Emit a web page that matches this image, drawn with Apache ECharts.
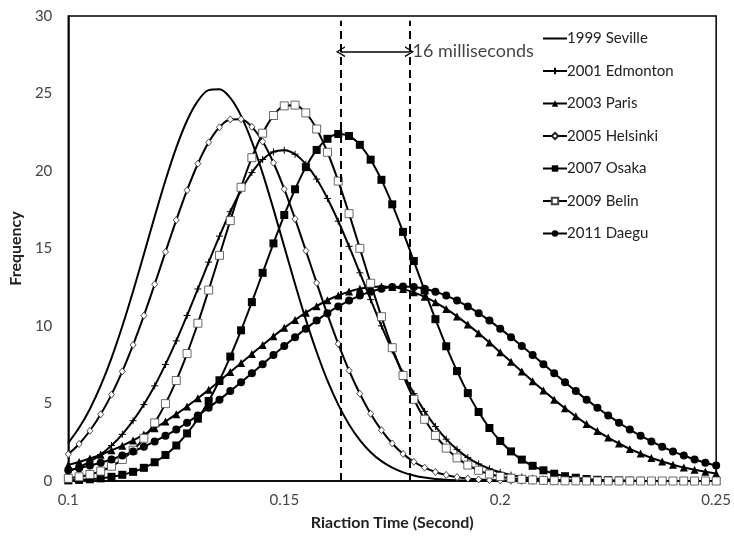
<!DOCTYPE html>
<html><head><meta charset="utf-8">
<script src="https://cdn.jsdelivr.net/npm/echarts@6/dist/echarts.min.js"></script>
<style>html,body{margin:0;padding:0;background:#fff}#c{width:734px;height:538px}</style>
</head><body><div id="c"></div>
<script>
// Reaction time grid (seconds)
const xs = [0.1,0.1025,0.105,0.1075,0.11,0.1125,0.115,0.1175,0.12,0.1225,0.125,0.1275,0.13,0.1325,0.135,0.1375,0.14,0.1425,0.145,0.1475,0.15,0.1525,0.155,0.1575,0.16,0.1625,0.165,0.1675,0.17,0.1725,0.175,0.1775,0.18,0.1825,0.185,0.1875,0.19,0.1925,0.195,0.1975,0.2,0.2025,0.205,0.2075,0.21,0.2125,0.215,0.2175,0.22,0.2225,0.225,0.2275,0.23,0.2325,0.235,0.2375,0.24,0.2425,0.245,0.2475,0.25];

const seville = [2.46,3.43,4.65,6.15,7.93,9.98,12.24,14.63,17.06,19.40,21.51,23.26,24.52,25.22,25.28,24.71,23.56,21.90,19.85,17.54,15.12,12.71,10.41,8.32,6.48,4.93,3.65,2.64,1.86,1.28,0.86,0.56,0.36,0.22,0.13,0.08,0.05,0.03,0.01,0,0,0,0,0,0,0,0,0,0,0,0,0,0,0,0,0,0,0,0,0,0];
const edmonton = [0.64,0.90,1.25,1.71,2.29,3.01,3.89,4.93,6.14,7.52,9.04,10.68,12.39,14.12,15.80,17.37,18.76,19.90,20.74,21.23,21.34,21.08,20.44,19.48,18.23,16.76,15.14,13.43,11.70,10.01,8.42,6.95,5.64,4.49,3.52,2.70,2.04,1.51,1.10,0.79,0.56,0.38,0.26,0.17,0.11,0.07,0.05,0.03,0.02,0.01,0,0,0,0,0,0,0,0,0,0,0];
const paris = [1.04,1.23,1.45,1.70,1.98,2.28,2.62,3.00,3.40,3.84,4.31,4.81,5.34,5.88,6.45,7.03,7.61,8.20,8.77,9.34,9.88,10.39,10.86,11.28,11.66,11.97,12.22,12.40,12.51,12.55,12.51,12.38,12.17,11.88,11.53,11.10,10.62,10.09,9.53,8.93,8.31,7.69,7.06,6.44,5.84,5.25,4.69,4.17,3.67,3.22,2.80,2.42,2.07,1.77,1.49,1.26,1.05,0.87,0.72,0.59,0.48];
const helsinki = [1.73,2.39,3.24,4.30,5.57,7.07,8.78,10.67,12.69,14.78,16.83,18.76,20.47,21.85,22.82,23.33,23.34,22.85,21.90,20.53,18.83,16.91,14.86,12.78,10.75,8.85,7.13,5.63,4.34,3.28,2.42,1.75,1.24,0.86,0.58,0.39,0.25,0.16,0.10,0.06,0.04,0.02,0.01,0.01,0,0,0,0,0,0,0,0,0,0,0,0,0,0,0,0,0];
const osaka = [0.04,0.07,0.11,0.17,0.27,0.40,0.59,0.85,1.21,1.68,2.29,3.07,4.02,5.16,6.50,8.03,9.72,11.54,13.43,15.33,17.16,18.82,20.25,21.36,22.08,22.39,22.26,21.69,20.73,19.43,17.85,16.07,14.19,12.29,10.44,8.69,7.09,5.67,4.45,3.42,2.58,1.91,1.38,0.98,0.69,0.47,0.31,0.21,0.13,0.08,0.05,0.03,0.02,0.01,0,0,0,0,0,0,0];
const belin = [0.17,0.27,0.42,0.64,0.95,1.39,1.98,2.76,3.75,4.99,6.48,8.22,10.18,12.32,14.56,16.80,18.95,20.86,22.44,23.58,24.20,24.25,23.75,22.71,21.21,19.35,17.25,15.01,12.76,10.60,8.60,6.81,5.27,3.98,2.94,2.12,1.49,1.03,0.69,0.45,0.29,0.18,0.11,0.07,0.04,0.02,0.01,0.01,0,0,0,0,0,0,0,0,0,0,0,0,0];
const daegu = [0.69,0.83,1.00,1.18,1.39,1.64,1.91,2.21,2.55,2.92,3.32,3.76,4.23,4.73,5.25,5.80,6.37,6.95,7.54,8.13,8.71,9.28,9.83,10.35,10.83,11.26,11.64,11.96,12.21,12.40,12.51,12.55,12.51,12.40,12.21,11.96,11.64,11.26,10.83,10.35,9.83,9.28,8.71,8.13,7.54,6.95,6.37,5.80,5.25,4.73,4.23,3.76,3.32,2.92,2.55,2.21,1.91,1.64,1.39,1.18,1.00];

const names = ['1999 Seville','2001 Edmonton','2003 Paris','2005 Helsinki','2007 Osaka','2009 Belin','2011 Daegu'];
const xTicks = [0.1, 0.15, 0.2, 0.25];
const dashX = [0.163, 0.179];
const arrowY = 27.7;
const annotText = '16 milliseconds';

const FONT = 'Lato, "Liberation Sans", sans-serif';
const pair = a => a.map((v,i)=>[xs[i], v]);
const plus = 'path://M0,5L10,5M5,0L5,10';

const styles = [
  {symbol:'none', showSymbol:false, itemStyle:{color:'rgba(0,0,0,0)', borderWidth:0, borderColor:'rgba(0,0,0,0)'}},
  {symbol:plus, symbolSize:7, itemStyle:{color:'#000',borderColor:'#000',borderWidth:1}},
  {symbol:'triangle', symbolSize:8, itemStyle:{color:'#000'}},
  {symbol:'diamond', symbolSize:[6,7], itemStyle:{color:'#fff',borderColor:'#222',borderWidth:0.8}},
  {symbol:'rect', symbolSize:8, itemStyle:{color:'#000'}},
  {symbol:'rect', symbolSize:8, itemStyle:{color:'#fff',borderColor:'#444',borderWidth:0.8}},
  {symbol:'circle', symbolSize:8, itemStyle:{color:'#000'}}
];
const datas = [seville, edmonton, paris, helsinki, osaka, belin, daegu];

const series = datas.map((d,k)=>Object.assign({
  name:names[k], type:'line', data:pair(d), showSymbol:true, smooth:0.35,
  lineStyle:{color:'#000', width:2}, z:3, animation:false
}, styles[k], {itemStyle:Object.assign({color:'#000'}, styles[k].itemStyle||{})}));

// dashed verticals
series.push({
  type:'line', data:[], silent:true, animation:false,
  markLine:{symbol:'none', silent:true, animation:false,
    lineStyle:{color:'#000', width:2, type:[8,5]}, label:{show:false},
    data: dashX.map(x=>[{coord:[x,0]},{coord:[x,29.7]}])}
});
// arrow + text
const chev = 'path://M0,10L5,0L10,10L8.6,10L5,2.6L1.4,10Z';
series.push({
  type:'line', data:[], silent:true, animation:false,
  markLine:{silent:true, animation:false,
    symbol:[chev, chev], symbolSize:[11,9],
    lineStyle:{color:'#000', width:1.5, type:'solid'},
    itemStyle:{color:'#000'},
    label:{show:false},
    data:[[{coord:[dashX[0],arrowY]},{coord:[dashX[1],arrowY]}]]}
});
series.push({
  type:'scatter', data:[[dashX[1], arrowY]], symbolSize:0, silent:true, animation:false,
  label:{show:true, position:'right', distance:3, formatter:annotText, color:'#111', fontSize:18, fontFamily:FONT}
});

const chart = echarts.init(document.getElementById('c'), null, {renderer:'canvas'});
chart.setOption({
  animation:false,
  backgroundColor:'#fff',
  grid:{left:64, right:17, top:16, bottom:57, show:true, borderColor:'#000', borderWidth:1.5, backgroundColor:'transparent'},
  legend:{
    data:names, orient:'vertical', left:537, top:26, itemWidth:24, itemHeight:8, itemGap:17.5,
    textStyle:{fontSize:15, color:'#222', fontFamily:FONT, padding:[0,0,0,-5]},
    selectedMode:false
  },
  xAxis:{
    type:'value', min:0.1, max:0.25, interval:0.05,
    axisLine:{show:true, lineStyle:{color:'#000', width:1.5}},
    axisTick:{show:false}, splitLine:{show:false},
    axisLabel:{color:'#444', fontSize:15, fontFamily:FONT, margin:12,
      formatter:v=>{const t=xTicks.find(x=>Math.abs(x-v)<1e-6);return t===undefined?'':String(t);}},
    name:'Riaction Time (Second)', nameLocation:'middle', nameGap:34,
    nameTextStyle:{fontWeight:'bold', fontSize:16, color:'#222', fontFamily:FONT}
  },
  yAxis:{
    type:'value', min:0, max:30, interval:5,
    axisLine:{show:true, lineStyle:{color:'#000', width:1.5}},
    axisTick:{show:false}, splitLine:{show:false},
    axisLabel:{color:'#444', fontSize:15, fontFamily:FONT, margin:16},
    name:'Frequency', nameLocation:'middle', nameGap:40,
    nameTextStyle:{fontWeight:'bold', fontSize:16, color:'#222', fontFamily:FONT}
  },
  series:series
});
</script></body></html>
